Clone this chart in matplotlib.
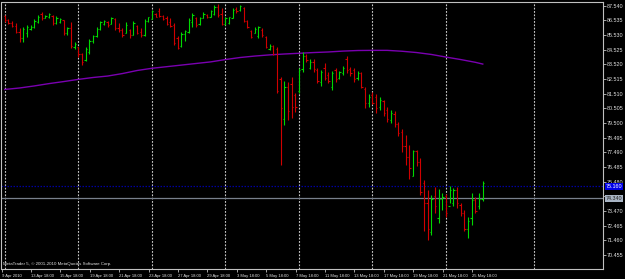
import matplotlib
matplotlib.use('Agg')
import matplotlib.pyplot as plt
from matplotlib.transforms import blended_transform_factory

# ---------------- data (H6 bars) ----------------
highs = [86.90, 86.63, 86.49, 86.33, 85.99, 86.10, 86.22, 86.22, 86.60, 86.90,
         87.13, 86.90, 87.02, 86.90, 86.83, 86.67, 86.56, 86.10, 86.45, 85.07,
         84.73, 84.32, 84.73, 85.23, 85.53, 86.06, 86.51, 86.56, 86.51, 86.79,
         86.67, 86.33, 85.99, 86.40, 85.92, 86.49, 86.22, 85.99, 86.60, 86.79,
         87.24, 87.06, 87.36, 86.90, 86.83, 86.67, 86.38, 85.46, 85.76, 85.87,
         86.67, 87.02, 86.79, 86.79, 87.08, 86.97, 87.24, 87.59, 87.66, 87.36,
         86.79, 86.79, 87.36, 87.43, 87.59, 87.47, 86.56, 85.87, 86.10, 86.15,
         85.99, 85.46, 84.89, 84.85, 84.73, 82.63, 82.38, 82.33, 82.67, 81.58,
         83.25, 84.39, 84.23, 83.86, 83.86, 83.25, 83.13, 83.59, 83.02, 83.09,
         83.25, 83.09, 83.41, 84.09, 83.36, 83.25, 83.09, 83.02, 81.94, 81.49,
         81.60, 81.50, 81.30, 81.10, 80.60, 80.40, 80.30, 79.60, 79.07, 78.68,
         77.99, 77.65, 77.65, 77.08, 75.59, 74.91, 74.56, 75.09, 74.95, 74.68,
         74.63, 75.18, 75.02, 75.09, 74.04, 73.54, 73.08, 74.68, 74.45, 74.72,
         75.52]
lows = [86.45, 86.29, 86.10, 85.69, 85.07, 85.03, 85.42, 85.87, 85.99, 86.38,
        86.56, 86.67, 86.67, 86.22, 86.29, 86.33, 85.53, 85.53, 84.62, 84.55,
        84.05, 83.47, 83.77, 84.23, 85.01, 85.42, 85.87, 86.22, 86.10, 86.29,
        85.87, 85.76, 85.42, 85.65, 85.30, 85.53, 85.58, 85.42, 85.46, 86.45,
        86.60, 86.74, 86.79, 86.56, 86.22, 86.10, 84.85, 84.55, 84.73, 85.14,
        85.65, 86.06, 86.10, 86.22, 86.67, 86.67, 86.79, 86.90, 86.79, 86.22,
        86.22, 86.29, 86.67, 87.06, 87.20, 86.45, 85.99, 85.30, 85.65, 85.30,
        85.42, 84.62, 84.50, 84.16, 81.58, 76.62, 79.36, 79.71, 79.84, 80.25,
        81.58, 83.02, 83.70, 83.18, 83.02, 82.22, 82.04, 82.45, 82.22, 81.76,
        82.33, 82.49, 82.79, 82.90, 82.72, 82.33, 82.45, 81.88, 80.50, 80.60,
        80.80, 80.20, 80.40, 80.00, 79.60, 79.50, 79.20, 78.60, 77.54, 76.62,
        75.64, 75.89, 76.55, 74.56, 72.12, 71.48, 71.82, 73.35, 72.67, 73.54,
        73.08, 73.99, 73.81, 73.65, 73.15, 72.12, 71.64, 72.51, 73.31, 73.60,
        74.18]
opens = [86.85, 86.55, 86.35, 86.15, 85.72, 85.30, 85.70, 85.95, 86.05, 86.45,
         86.95, 86.70, 86.75, 86.85, 86.35, 86.45, 86.55, 85.65, 86.00, 84.70,
         84.70, 84.20, 83.80, 84.40, 85.10, 85.45, 85.95, 86.30, 86.45, 86.30,
         86.60, 86.00, 85.90, 85.70, 85.85, 85.55, 86.15, 85.75, 85.55, 86.50,
         86.65, 87.00, 87.20, 86.85, 86.70, 86.40, 86.20, 85.30, 84.80, 85.60,
         85.75, 86.40, 86.70, 86.30, 86.70, 86.90, 86.80, 86.95, 87.45, 86.95,
         86.30, 86.35, 86.70, 87.30, 87.25, 87.40, 86.50, 85.80, 85.70, 85.45,
         85.90, 85.40, 84.60, 84.80, 84.60, 82.50, 79.80, 82.00, 82.20, 81.40,
         81.70, 83.20, 84.10, 83.30, 83.70, 83.10, 82.30, 83.30, 82.80, 82.00,
         83.10, 82.60, 82.90, 83.90, 83.20, 83.10, 82.60, 82.90, 81.80, 80.90,
         81.40, 81.30, 80.60, 81.00, 80.40, 79.70, 80.10, 79.40, 78.90, 77.90,
         77.20, 75.90, 77.60, 76.80, 75.40, 74.00, 72.00, 74.50, 73.00, 74.30,
         74.50, 73.80, 74.00, 74.90, 73.90, 73.30, 72.20, 73.00, 74.20, 73.80,
         74.30]
closes = [86.55, 86.35, 86.15, 85.72, 85.30, 85.95, 86.05, 86.10, 86.50, 86.80,
          86.70, 86.85, 86.95, 86.35, 86.70, 86.60, 85.65, 86.00, 84.80, 84.95,
          84.20, 83.70, 84.60, 85.10, 85.45, 85.95, 86.45, 86.50, 86.20, 86.70,
          86.00, 85.85, 85.50, 86.25, 85.50, 86.35, 85.70, 85.55, 86.50, 86.75,
          87.15, 86.80, 86.85, 86.60, 86.30, 86.15, 85.00, 84.65, 85.60, 85.80,
          86.55, 86.90, 86.25, 86.70, 86.95, 86.75, 87.15, 87.45, 86.90, 86.30,
          86.70, 86.75, 87.25, 87.15, 87.50, 86.50, 86.05, 85.40, 85.95, 86.05,
          85.50, 84.70, 84.80, 84.25, 81.70, 80.50, 82.00, 80.30, 80.60, 80.60,
          83.10, 84.10, 83.80, 83.70, 83.20, 82.40, 83.00, 82.60, 82.40, 82.90,
          82.50, 83.00, 83.30, 83.10, 82.90, 82.50, 82.95, 82.00, 80.90, 81.30,
          80.90, 80.50, 81.10, 80.20, 79.80, 80.20, 79.40, 78.80, 77.90, 77.20,
          76.40, 77.60, 76.80, 74.80, 74.00, 72.20, 74.30, 73.80, 74.30, 74.40,
          73.30, 74.90, 74.90, 74.00, 73.30, 72.20, 72.80, 74.20, 73.50, 74.30,
          75.40]

ma_bars = [0, 4, 8, 12, 16, 20, 24, 28, 32, 36, 40, 44, 48, 52, 56, 60, 64,
           68, 72, 76, 80, 84, 88, 92, 96, 100, 104, 108, 112, 116, 120, 124,
           128, 130]
ma_vals = [81.80, 81.90, 82.04, 82.20, 82.34, 82.49, 82.62, 82.72, 82.89,
           83.10, 83.25, 83.36, 83.47, 83.58, 83.69, 83.85, 83.99, 84.09,
           84.17, 84.23, 84.28, 84.33, 84.37, 84.43, 84.47, 84.48, 84.48,
           84.42, 84.33, 84.20, 84.02, 83.85, 83.66, 83.54]

time_labels = ["9 Apr 2010", "13 Apr 18:00", "15 Apr 18:00", "19 Apr 18:00",
               "21 Apr 18:00", "23 Apr 18:00", "27 Apr 18:00", "29 Apr 18:00",
               "3 May 18:00", "5 May 18:00", "7 May 18:00", "11 May 18:00",
               "13 May 18:00", "17 May 18:00", "19 May 18:00", "21 May 18:00",
               "25 May 18:00"]
time_label_bars = [0, 8, 16, 24, 32, 40, 48, 56, 64, 72, 80, 88, 96, 104, 112,
                   120, 128]

price_ticks = [87.540, 86.535, 85.530, 84.525, 83.520, 82.515, 81.510, 80.505,
               79.500, 78.495, 77.490, 76.485, 75.480, 74.475, 73.470, 72.465,
               71.460, 70.455]
# 74.475 is hidden under the bid price box in the reference
price_tick_labels = ["87.540", "86.535", "85.530", "84.525", "83.520", "82.515",
                     "81.510", "80.505", "79.500", "78.495", "77.490", "76.485",
                     "75.480", "", "73.470", "72.465", "71.460", "70.455"]

ask_price = 75.160
bid_price = 74.340
grid_bars = [0, 20, 40, 60, 80, 100, 120, 144]

# ---------------- figure ----------------
W, H = 625, 279
fig = plt.figure(figsize=(W / 100, H / 100), dpi=100, facecolor='black')
px_l, px_r, px_t, px_b = 1.5, 603.0, 1.5, 269.0
ax = fig.add_axes([px_l / W, 1 - px_b / H, (px_r - px_l) / W, (px_b - px_t) / H])
ax.set_facecolor('black')
ax.set_xlim(-0.76, 162.7)
ax.set_ylim(69.49, 87.83)

border = '#C0C0C0'
for s in ax.spines.values():
    s.set_color(border)
    s.set_linewidth(0.8)

narrow = ['Liberation Sans Narrow', 'Liberation Sans']

# grid
for g in grid_bars:
    ax.axvline(g, color='#C8C8C8', lw=0.8, ls=(0, (1.6, 1.4)), zorder=1)

# ask / bid lines
ax.axhline(ask_price, color='#0000A0', lw=0.9, ls=(0, (1.2, 1.2)), zorder=1)
ax.axhline(bid_price, color='#78808C', lw=0.9, zorder=1)

# moving average
ax.plot(ma_bars, ma_vals, color='#7A00B0', lw=1.0, zorder=2)

# OHLC bars
up_col, dn_col = '#00D800', '#D00000'
n = len(highs)
idx = list(range(n))
cols = [up_col if closes[i] >= opens[i] else dn_col for i in idx]
ax.vlines(idx, lows, highs, colors=cols, lw=0.8, zorder=3)
ax.hlines(opens, [i - 0.35 for i in idx], idx, colors=cols, lw=0.8, zorder=3)
ax.hlines(closes, idx, [i + 0.35 for i in idx], colors=cols, lw=0.8, zorder=3)

# y axis on right
ax.yaxis.tick_right()
ax.set_yticks(price_ticks)
ax.set_yticklabels(price_tick_labels)
ax.tick_params(axis='y', colors=border, length=2.0, width=0.6, labelsize=3.9,
               pad=0.8, labelcolor='#E0E0E0')
for t in ax.get_yticklabels():
    t.set_fontfamily(narrow)

# x axis
ax.set_xticks([b - 0.9 for b in time_label_bars])
ax.set_xticklabels(time_labels, ha='left')
ax.tick_params(axis='x', colors=border, length=2.5, width=0.6, labelsize=3.0,
               pad=0.8, labelcolor='#E0E0E0')
for t in ax.get_xticklabels():
    t.set_fontfamily(narrow)

tr = blended_transform_factory(ax.transAxes, ax.transData)
ax.text(1.005, ask_price, "75.160", transform=tr, fontsize=3.9, color='white',
        family=narrow, va='center', ha='left', zorder=10, clip_on=False,
        bbox=dict(boxstyle='square,pad=0.15', fc='#0000E8', ec='none'))
ax.text(1.005, bid_price, "74.340", transform=tr, fontsize=3.9, color='#202020',
        family=narrow, va='center', ha='left', zorder=10, clip_on=False,
        bbox=dict(boxstyle='square,pad=0.15', fc='#A8B4C4', ec='none'))

fig.text(3 / W, 1 - 264.5 / H, "MetaTrader 5, \u00a9 2001-2010 MetaQuotes Software Corp.",
         fontsize=3.2, color='#E0E0E0', family=narrow, va='center', ha='left')

fig.savefig('out.png', dpi=100, facecolor='black')
